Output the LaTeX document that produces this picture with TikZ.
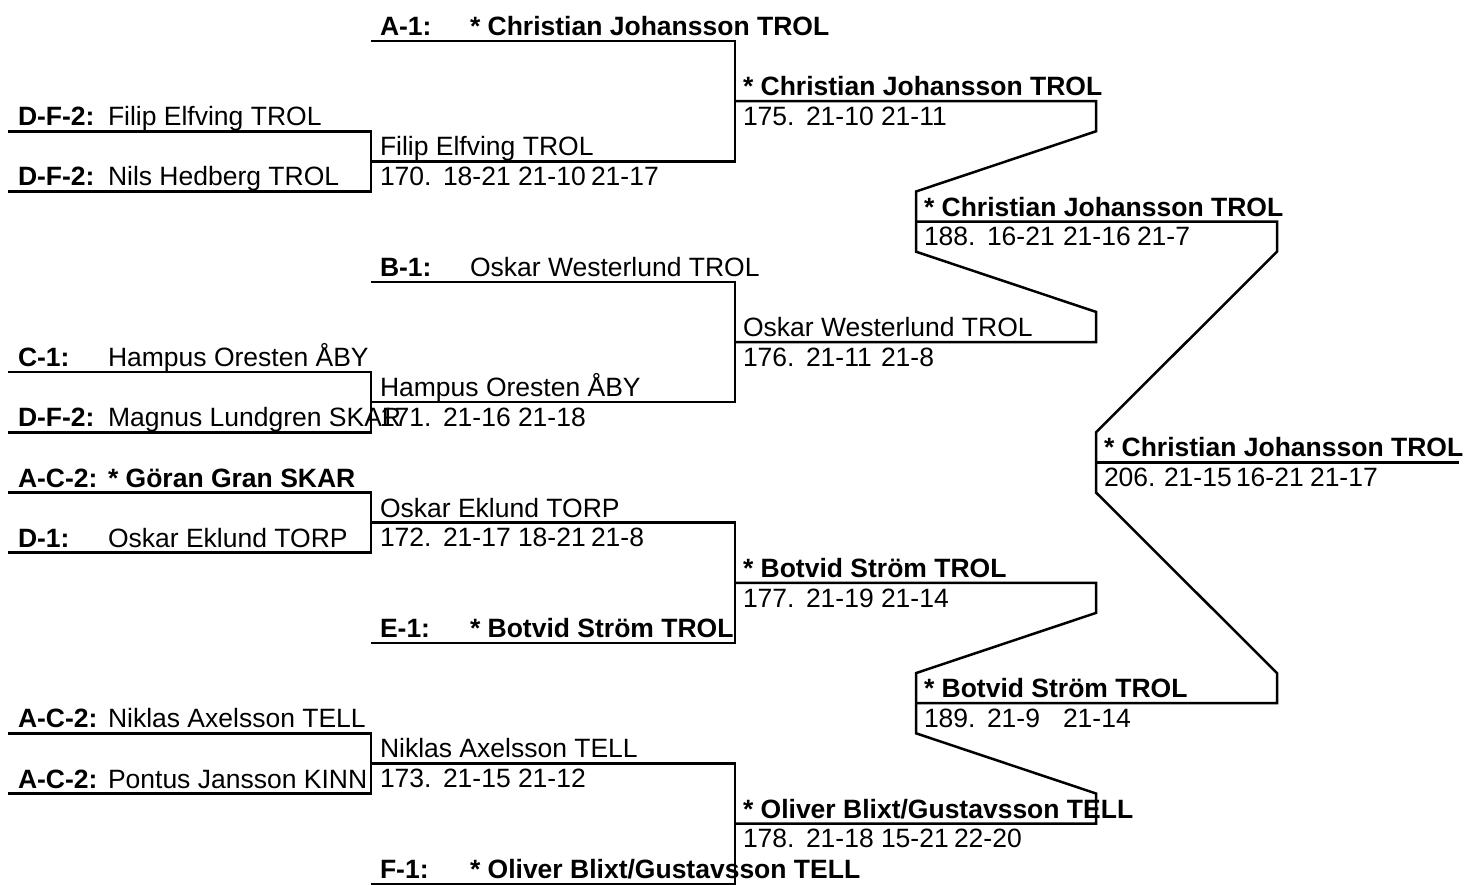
\documentclass[tikz,border=0pt]{standalone}
\usepackage{fontspec}
\setmainfont{Liberation Sans}
\newcommand{\fs}{\fontsize{26.5}{30}\selectfont}
\tikzset{
  br/.style={line width=2.5pt, line join=miter, draw=black},
  nm/.style={anchor=base west, inner sep=0pt, outer sep=0pt, font=\fs, yshift=5.5pt},
  bn/.style={nm, font=\fs\bfseries},
  sc/.style={anchor=base west, inner sep=0pt, outer sep=0pt, font=\fs, yshift=-24.3pt}
}
\begin{document}
\begin{tikzpicture}
\useasboundingbox (0,0) rectangle (1467pt,-885pt);
\begin{scope}[x=1pt,y=-30.1pt,yshift=-41pt]
% grid coordinates
\foreach \r in {0,...,28}{
  \coordinate (L\r) at (8,\r);
  \coordinate (M\r) at (371,\r);
  \coordinate (N\r) at (735,\r);
  \coordinate (Q\r) at (916,\r);
  \coordinate (P\r) at (1096,\r);
  \coordinate (R\r) at (1277,\r);
  \coordinate (E\r) at (1459,\r);
}
% round 1 brackets
\draw[br] (L3) -- (M3) -- (M5) -- (L5);
\draw[br] (L11) -- (M11) -- (M13) -- (L13);
\draw[br] (L15) -- (M15) -- (M17) -- (L17);
\draw[br] (L23) -- (M23) -- (M25) -- (L25);
% round 2 brackets
\draw[br] (M0) -- (N0) -- (N4) -- (M4);
\draw[br] (M8) -- (N8) -- (N12) -- (M12);
\draw[br] (M16) -- (N16) -- (N20) -- (M20);
\draw[br] (M24) -- (N24) -- (N28) -- (M28);
% round 3 to 4
\draw[br] (N2) -- (P2) -- (P3) -- (Q5) -- (Q7) -- (P9) -- (P10) -- (N10);
\draw[br] (N18) -- (P18) -- (P19) -- (Q21) -- (Q23) -- (P25) -- (P26) -- (N26);
% round 4 to 5
\draw[br] (Q6) -- (R6) -- (R7) -- (P13) -- (P15) -- (R21) -- (R22) -- (Q22);
\draw[br] (P14) -- (E14);

% round 1 texts
\node[bn] (l3) at (18,3) {D-F-2:};  \node[nm] (n3) at (108,3) {Filip Elfving TROL};
\node[bn] (l5) at (18,5) {D-F-2:};  \node[nm] (n5) at (108,5) {Nils Hedberg TROL};
\node[bn] (l11) at (18,11) {C-1:};  \node[nm] (n11) at (108,11) {Hampus Oresten ÅBY};
\node[bn] (l13) at (18,13) {D-F-2:}; \node[nm] (n13) at (108,13) {Magnus Lundgren SKAR};
\node[bn] (l15) at (18,15) {A-C-2:}; \node[bn] (n15) at (108,15) {* Göran Gran SKAR};
\node[bn] (l17) at (18,17) {D-1:};  \node[nm] (n17) at (108,17) {Oskar Eklund TORP};
\node[bn] (l23) at (18,23) {A-C-2:}; \node[nm] (n23) at (108,23) {Niklas Axelsson TELL};
\node[bn] (l25) at (18,25) {A-C-2:}; \node[nm] (n25) at (108,25) {Pontus Jansson KINN};

% round 2 texts
\node[bn] (l0) at (380,0) {A-1:};  \node[bn] (n0) at (470,0) {* Christian Johansson TROL};
\node[nm] (n4) at (380,4) {Filip Elfving TROL};
\node[sc] (s4a) at (380,4) {170.}; \node[sc] (s4b) at (443,4) {18-21}; \node[sc] (s4c) at (518,4) {21-10}; \node[sc] (s4d) at (591,4) {21-17};
\node[bn] (l8) at (380,8) {B-1:};  \node[nm] (n8) at (470,8) {Oskar Westerlund TROL};
\node[nm] (n12) at (380,12) {Hampus Oresten ÅBY};
\node[sc] (s12a) at (380,12) {171.}; \node[sc] (s12b) at (443,12) {21-16}; \node[sc] (s12c) at (518,12) {21-18};
\node[nm] (n16) at (380,16) {Oskar Eklund TORP};
\node[sc] (s16a) at (380,16) {172.}; \node[sc] (s16b) at (443,16) {21-17}; \node[sc] (s16c) at (518,16) {18-21}; \node[sc] (s16d) at (591,16) {21-8};
\node[bn] (l20) at (380,20) {E-1:}; \node[bn] (n20) at (470,20) {* Botvid Ström TROL};
\node[nm] (n24) at (380,24) {Niklas Axelsson TELL};
\node[sc] (s24a) at (380,24) {173.}; \node[sc] (s24b) at (443,24) {21-15}; \node[sc] (s24c) at (518,24) {21-12};
\node[bn] (l28) at (380,28) {F-1:}; \node[bn] (n28) at (470,28) {* Oliver Blixt/Gustavsson TELL};

% round 3 texts
\node[bn] (n2) at (743,2) {* Christian Johansson TROL};
\node[sc] (s2a) at (743,2) {175.}; \node[sc] (s2b) at (806,2) {21-10}; \node[sc] (s2c) at (881,2) {21-11};
\node[nm] (n10) at (743,10) {Oskar Westerlund TROL};
\node[sc] (s10a) at (743,10) {176.}; \node[sc] (s10b) at (806,10) {21-11}; \node[sc] (s10c) at (881,10) {21-8};
\node[bn] (n18) at (743,18) {* Botvid Ström TROL};
\node[sc] (s18a) at (743,18) {177.}; \node[sc] (s18b) at (806,18) {21-19}; \node[sc] (s18c) at (881,18) {21-14};
\node[bn] (n26) at (743,26) {* Oliver Blixt/Gustavsson TELL};
\node[sc] (s26a) at (743,26) {178.}; \node[sc] (s26b) at (806,26) {21-18}; \node[sc] (s26c) at (881,26) {15-21}; \node[sc] (s26d) at (954,26) {22-20};

% round 4 texts
\node[bn] (n6) at (924,6) {* Christian Johansson TROL};
\node[sc] (s6a) at (924,6) {188.}; \node[sc] (s6b) at (987,6) {16-21}; \node[sc] (s6c) at (1063,6) {21-16}; \node[sc] (s6d) at (1137,6) {21-7};
\node[bn] (n22) at (924,22) {* Botvid Ström TROL};
\node[sc] (s22a) at (924,22) {189.}; \node[sc] (s22b) at (987,22) {21-9}; \node[sc] (s22c) at (1063,22) {21-14};

% final
\node[bn] (n14) at (1104,14) {* Christian Johansson TROL};
\node[sc] (s14a) at (1104,14) {206.}; \node[sc] (s14b) at (1164,14) {21-15}; \node[sc] (s14c) at (1236,14) {16-21}; \node[sc] (s14d) at (1310,14) {21-17};
\end{scope}
\end{tikzpicture}
\end{document}
